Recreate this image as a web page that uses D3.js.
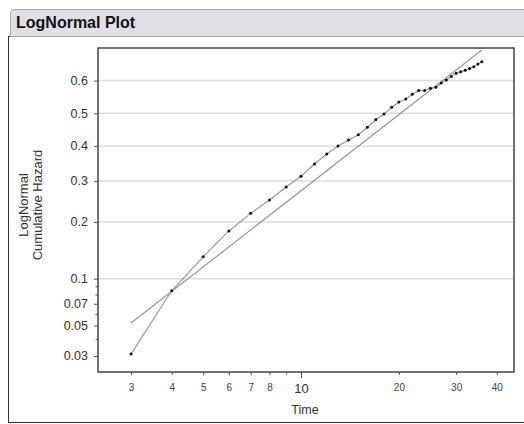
<!DOCTYPE html>
<html>
<head>
<meta charset="utf-8">
<script src="https://cdn.jsdelivr.net/npm/d3@7"></script>
<style>
  body { margin: 0; background: #fff; font-family: "Liberation Sans", Arial, sans-serif; }
  svg { display: block; }
</style>
</head>
<body>
<div id="chart"></div>
<script>
var times = [3, 4, 5, 6, 7, 8, 9, 10, 11, 12, 13, 14, 15, 16, 17, 18, 19, 20,
  21, 22, 23, 24, 25, 26, 27, 28, 29, 30, 31, 32, 33, 34, 35, 36];
var hazard = [0.031, 0.0845, 0.133, 0.181, 0.219, 0.251, 0.284, 0.313, 0.347, 0.376,
  0.400, 0.418, 0.434, 0.457, 0.481, 0.498, 0.519, 0.535, 0.544, 0.559,
  0.570, 0.570, 0.577, 0.580, 0.593, 0.602, 0.612, 0.622, 0.626, 0.631,
  0.636, 0.641, 0.649, 0.655];

// fitted lognormal line, two ends
var fitTime = [3, 36];
var fitHazard = [0.052, 0.688];

var yTicks = [0.6, 0.5, 0.4, 0.3, 0.2, 0.1, 0.07, 0.05, 0.03];
var yMinor = [0.09, 0.08, 0.06, 0.04];
var yGrid = [0.6, 0.5, 0.4, 0.3, 0.2, 0.1];
var xTicks = [3, 4, 5, 6, 7, 8, 10, 20, 30, 40];
var xMinor = [9];

// inverse normal cdf (Acklam)
function qnorm(p) {
  var a = [-3.969683028665376e+01, 2.209460984245205e+02, -2.759285104469687e+02,
    1.383577518672690e+02, -3.066479806614716e+01, 2.506628277459239e+00];
  var b = [-5.447609879822406e+01, 1.615858368580409e+02, -1.556989798598866e+02,
    6.680131188771972e+01, -1.328068155288572e+01];
  var c = [-7.784894002430293e-03, -3.223964580411365e-01, -2.400758277161838e+00,
    -2.549732539343734e+00, 4.374664141464968e+00, 2.938163982698783e+00];
  var d = [7.784695709041462e-03, 3.224671290700398e-01, 2.445134137142996e+00,
    3.754408661907416e+00];
  var pl = 0.02425, q, r;
  if (p < pl) {
    q = Math.sqrt(-2 * Math.log(p));
    return (((((c[0]*q+c[1])*q+c[2])*q+c[3])*q+c[4])*q+c[5]) /
      ((((d[0]*q+d[1])*q+d[2])*q+d[3])*q+1);
  } else if (p <= 1 - pl) {
    q = p - 0.5; r = q * q;
    return (((((a[0]*r+a[1])*r+a[2])*r+a[3])*r+a[4])*r+a[5])*q /
      (((((b[0]*r+b[1])*r+b[2])*r+b[3])*r+b[4])*r+1);
  } else {
    q = Math.sqrt(-2 * Math.log(1 - p));
    return -(((((c[0]*q+c[1])*q+c[2])*q+c[3])*q+c[4])*q+c[5]) /
      ((((d[0]*q+d[1])*q+d[2])*q+d[3])*q+1);
  }
}

var W = 524, H = 424;
var plotL = 98, plotT = 48, plotR = 514, plotB = 372;

var svg = d3.select("#chart").append("svg")
  .attr("width", W)
  .attr("height", H);

// outer panel + title bar
svg.append("rect")
  .attr("x", 8.5).attr("y", 36.5)
  .attr("width", W).attr("height", H - 37 - 1)
  .attr("fill", "#fff")
  .attr("stroke", "#333");

svg.append("path")
  .attr("d", "M10.5,36.5 L10.5,14 Q10.5,9.5 15,9.5 L" + (W + 2) + ",9.5 L" + (W + 2) + ",36.5 Z")
  .attr("fill", "#e0e0e4")
  .attr("stroke", "#a8a8ac");

svg.append("text")
  .attr("x", 16).attr("y", 28)
  .attr("font-size", 16)
  .attr("font-weight", "bold")
  .attr("fill", "#111")
  .text("LogNormal Plot");

// scales
var x = d3.scaleLog().domain([2.374, 45.2]).range([plotL, plotR]);
var zScale = d3.scaleLinear().domain([-2.005, 0.506]).range([plotB, plotT]);
function y(p) { return zScale(qnorm(p)); }

// grid
svg.append("g").selectAll("line")
  .data(yGrid)
  .enter().append("line")
  .attr("x1", plotL).attr("x2", plotR)
  .attr("y1", function(d) { return y(d); })
  .attr("y2", function(d) { return y(d); })
  .attr("stroke", "#dcdcdc")
  .attr("stroke-width", 1.5);

// axes
var yAxis = d3.axisLeft(zScale)
  .tickValues(yTicks.map(qnorm))
  .tickFormat(function(d, i) { return yTicks[i]; })
  .tickSize(4)
  .tickPadding(6);

var gy = svg.append("g")
  .attr("transform", "translate(" + plotL + ",0)")
  .call(yAxis);
gy.select(".domain").remove();
gy.selectAll("line").attr("stroke", "#555");
gy.selectAll("text")
  .attr("font-size", 12.5)
  .attr("font-family", "Liberation Sans, Arial, sans-serif")
  .attr("fill", "#333");

var gyMinor = svg.append("g")
  .attr("transform", "translate(" + plotL + ",0)")
  .call(d3.axisLeft(zScale).tickValues(yMinor.map(qnorm)).tickFormat("").tickSize(2.5));
gyMinor.select(".domain").remove();
gyMinor.selectAll("line").attr("stroke", "#555");

var xAxis = d3.axisBottom(x)
  .tickValues(xTicks)
  .tickFormat(function(d) { return d; })
  .tickSize(3)
  .tickPadding(9);

var gx = svg.append("g")
  .attr("transform", "translate(0," + plotB + ")")
  .call(xAxis);
gx.select(".domain").remove();
gx.selectAll("line").attr("stroke", "#555");
gx.selectAll("text")
  .attr("font-size", function(d) { return d === 10 ? 13 : 10; })
  .attr("font-family", "Liberation Sans, Arial, sans-serif")
  .attr("fill", function(d) { return d === 10 ? "#333" : "#444"; });
gx.selectAll(".tick")
  .filter(function(d) { return d === 10; })
  .select("line").attr("y2", 6);

var gxMinor = svg.append("g")
  .attr("transform", "translate(0," + plotB + ")")
  .call(d3.axisBottom(x).tickValues(xMinor).tickFormat("").tickSize(2.5));
gxMinor.select(".domain").remove();
gxMinor.selectAll("line").attr("stroke", "#555");

// frame
svg.append("rect")
  .attr("x", plotL).attr("y", plotT)
  .attr("width", plotR - plotL).attr("height", plotB - plotT)
  .attr("fill", "none")
  .attr("stroke", "#444")
  .attr("stroke-width", 1.5);

// axis titles
svg.append("text")
  .attr("x", 305).attr("y", 414)
  .attr("text-anchor", "middle")
  .attr("font-size", 12.5)
  .attr("fill", "#333")
  .text("Time");

var yt = svg.append("text")
  .attr("transform", "translate(28,205) rotate(-90)")
  .attr("text-anchor", "middle")
  .attr("font-size", 13)
  .attr("fill", "#333");
yt.append("tspan").attr("x", 0).attr("dy", 0).text("LogNormal");
yt.append("tspan").attr("x", 0).attr("dy", 14).text("Cumulative Hazard");

// fitted line
svg.append("path")
  .datum(fitTime.map(function(t, i) { return [t, fitHazard[i]]; }))
  .attr("d", d3.line()
    .x(function(d) { return x(d[0]); })
    .y(function(d) { return y(d[1]); }))
  .attr("fill", "none")
  .attr("stroke", "#999")
  .attr("stroke-width", 1.2);

// observed line + points
var pts = times.map(function(t, i) { return [t, hazard[i]]; });

svg.append("path")
  .datum(pts)
  .attr("d", d3.line()
    .x(function(d) { return x(d[0]); })
    .y(function(d) { return y(d[1]); }))
  .attr("fill", "none")
  .attr("stroke", "#999")
  .attr("stroke-width", 1.2);

svg.append("g").selectAll("circle")
  .data(pts)
  .enter().append("circle")
  .attr("cx", function(d) { return x(d[0]); })
  .attr("cy", function(d) { return y(d[1]); })
  .attr("r", 1.5)
  .attr("fill", "#111");
</script>
</body>
</html>
